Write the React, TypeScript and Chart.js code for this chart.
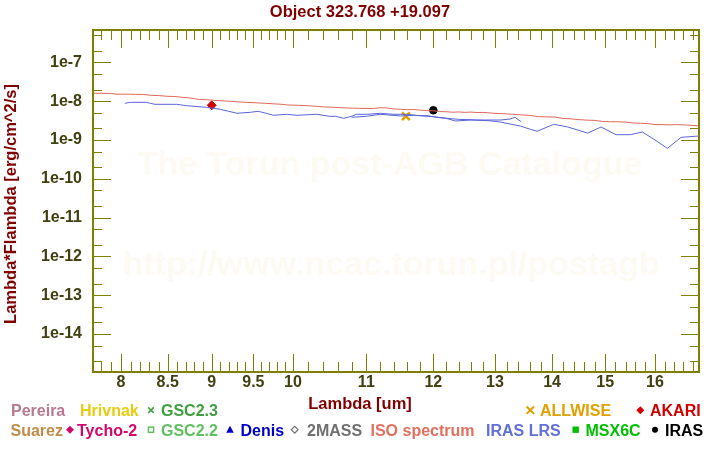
import React, { useEffect, useRef } from 'react';
import { Chart, registerables } from 'chart.js';

Chart.register(...registerables);

// ---------- texts ----------
const titleText = 'Object 323.768 +19.097';
const xTitleText = 'Lambda [um]';
const yTitleText = 'Lambda*Flambda [erg/cm^2/s]';
const watermark1 = 'The Torun post-AGB Catalogue';
const watermark2 = 'http://www.ncac.torun.pl/postagb';

// ---------- axes ----------
const X_MIN = 7.7145;
const X_MAX = 16.941;
const Y_MIN = 1.05e-15;
const Y_MAX = 6.84e-7;
const xMajorTicks = [8, 8.5, 9, 9.5, 10, 11, 12, 13, 14, 15, 16];
const xMinorTicks = [
  7.8, 7.9, 8.1, 8.2, 8.3, 8.4, 8.6, 8.7, 8.8, 8.9, 9.1, 9.2, 9.3, 9.4, 9.6, 9.7, 9.8, 9.9,
  10.2, 10.4, 10.6, 10.8, 11.2, 11.4, 11.6, 11.8, 12.2, 12.4, 12.6, 12.8, 13.2, 13.4, 13.6, 13.8,
  14.2, 14.4, 14.6, 14.8, 15.2, 15.4, 15.6, 15.8, 16.2, 16.4, 16.6, 16.8,
];
const yMajorTicks = [1e-14, 1e-13, 1e-12, 1e-11, 1e-10, 1e-9, 1e-8, 1e-7];
const yMinorTicks = [
  2e-15, 5e-15, 2e-14, 5e-14, 2e-13, 5e-13, 2e-12, 5e-12, 2e-11, 5e-11,
  2e-10, 5e-10, 2e-9, 5e-9, 2e-8, 5e-8, 2e-7, 5e-7,
];

// ---------- ISO spectrum ----------
const isoWave = [
  7.71, 7.8, 7.9, 7.96, 8.05, 8.15, 8.24, 8.32, 8.4, 8.49, 8.58, 8.66, 8.74, 8.8, 8.86, 8.95,
  9.06, 9.17, 9.29, 9.41, 9.53, 9.65, 9.78, 9.86, 9.93, 10.07, 10.22, 10.32, 10.42, 10.56, 10.71,
  10.9, 11.1, 11.2, 11.3, 11.4, 11.5, 11.6, 11.7, 11.8, 11.9, 12.0, 12.1, 12.2, 12.3, 12.4, 12.5,
  12.6, 12.7, 12.8, 12.9, 13.0, 13.1, 13.2, 13.3, 13.45, 13.6, 13.75, 13.9, 14.05, 14.2, 14.35,
  14.5, 14.65, 14.8, 14.95, 15.1, 15.25, 15.4, 15.55, 15.7, 15.85, 16.0, 16.15, 16.3, 16.45, 16.6,
  16.75, 16.94,
];
const isoFlux = [
  1.6e-8, 1.6e-8, 1.58e-8, 1.51e-8, 1.52e-8, 1.5e-8, 1.49e-8, 1.42e-8, 1.4e-8, 1.34e-8, 1.32e-8,
  1.26e-8, 1.22e-8, 1.16e-8, 1.1e-8, 1.09e-8, 1.04e-8, 1.01e-8, 9.7e-9, 9.35e-9, 9.1e-9, 8.8e-9,
  8.5e-9, 8.3e-9, 8.0e-9, 7.85e-9, 7.6e-9, 7.35e-9, 7.1e-9, 6.95e-9, 6.7e-9, 6.55e-9, 6.5e-9,
  6.8e-9, 6.7e-9, 6.3e-9, 6.2e-9, 6.05e-9, 6.1e-9, 5.9e-9, 5.7e-9, 5.65e-9, 5.4e-9, 5.35e-9,
  5.2e-9, 5.3e-9, 5.15e-9, 5.25e-9, 5.1e-9, 5.15e-9, 5.0e-9, 4.85e-9, 4.8e-9, 4.7e-9, 4.6e-9,
  4.45e-9, 4.3e-9, 4.0e-9, 3.95e-9, 3.9e-9, 3.6e-9, 3.5e-9, 3.35e-9, 3.25e-9, 3.2e-9, 3.0e-9,
  2.95e-9, 2.95e-9, 2.9e-9, 2.75e-9, 2.7e-9, 2.65e-9, 2.5e-9, 2.5e-9, 2.45e-9, 2.5e-9, 2.45e-9,
  2.4e-9, 2.3e-9,
];

// ---------- IRAS LRS (short and long segment) ----------
const lrsShortWave = [
  8.04, 8.1, 8.27, 8.31, 8.36, 8.6, 8.71, 8.94, 9.1, 9.2, 9.3, 9.46, 9.56, 9.66, 9.75, 9.92,
  10.05, 10.31, 10.49, 10.57, 10.68, 10.79, 10.86, 11.02, 11.2, 11.39, 11.59, 11.75, 11.9, 12.1,
  12.4, 12.7, 13.1, 13.26, 13.34, 13.45,
];
const lrsShortFlux = [
  8.83e-9, 9.37e-9, 9.37e-9, 8.83e-9, 8.32e-9, 8.32e-9, 7.66e-9, 6.96e-9, 6.18e-9, 5.49e-9,
  4.88e-9, 5.17e-9, 5.49e-9, 4.88e-9, 4.33e-9, 4.6e-9, 4.33e-9, 4.6e-9, 4.08e-9, 4.08e-9,
  3.62e-9, 4.08e-9, 4.6e-9, 4.6e-9, 4.88e-9, 4.6e-9, 4.6e-9, 4.3e-9, 4.23e-9, 3.76e-9, 3.41e-9,
  3.28e-9, 3.28e-9, 3.48e-9, 3.85e-9, 2.96e-9,
];
const lrsLongWave = [
  10.79, 11.0, 11.2, 11.5, 11.7, 12.0, 12.2, 12.35, 12.6, 12.9, 13.09, 13.26, 13.43, 13.61, 13.73,
  14.03, 14.27, 14.66, 14.92, 15.21, 15.5, 15.74, 15.98, 16.26, 16.55, 16.94,
];
const lrsLongFlux = [
  3.85e-9, 4.08e-9, 4.6e-9, 4.16e-9, 4.33e-9, 3.98e-9, 3.62e-9, 3.09e-9, 3.28e-9, 3.14e-9,
  2.91e-9, 2.58e-9, 2.3e-9, 1.89e-9, 1.68e-9, 2.54e-9, 2.2e-9, 1.51e-9, 2.16e-9, 1.37e-9,
  1.37e-9, 1.61e-9, 1.04e-9, 6.11e-10, 1.17e-9, 1.27e-9,
];

// ---------- photometry ----------
const akariWave = [9.0];
const akariFlux = [7.84e-9];
const allwiseWave = [11.58];
const allwiseFlux = [4.08e-9];
const irasWave = [12.0];
const irasFlux = [5.83e-9];

const FONT = '"Liberation Sans", Arial, Helvetica, sans-serif';
const OLIVE = '#808000';
const MAROON = '#800000';

const zip = (xs: number[], ys: number[]) => xs.map((x, i) => ({ x, y: ys[i] }));

type LegendItem = { text: string; color: string; x: number; row: number; marker?: string; mx?: number };
const legendItems: LegendItem[] = [
  { text: 'Pereira', color: '#b87890', x: 11, row: 0 },
  { text: 'Hrivnak', color: '#e8cc10', x: 80, row: 0 },
  { text: 'GSC2.3', color: '#40a040', x: 161, row: 0, marker: 'x', mx: 151 },
  { text: 'ALLWISE', color: '#e0a000', x: 540, row: 0, marker: 'X', mx: 530.3 },
  { text: 'AKARI', color: '#d00000', x: 650, row: 0, marker: 'D', mx: 640.3 },
  { text: 'Suarez', color: '#c08c48', x: 10.5, row: 1 },
  { text: 'Tycho-2', color: '#d0086c', x: 77, row: 1, marker: 'D', mx: 70 },
  { text: 'GSC2.2', color: '#60c060', x: 161, row: 1, marker: 'sq', mx: 151 },
  { text: 'Denis', color: '#0000c8', x: 240.5, row: 1, marker: 'tri', mx: 230 },
  { text: '2MASS', color: '#707070', x: 307, row: 1, marker: 'od', mx: 294.7 },
  { text: 'ISO spectrum', color: '#e07060', x: 370.5, row: 1 },
  { text: 'IRAS LRS', color: '#6070d8', x: 486, row: 1 },
  { text: 'MSX6C', color: '#00c000', x: 585.5, row: 1, marker: 'fsq', mx: 575.7 },
  { text: 'IRAS', color: '#000000', x: 665, row: 1, marker: 'dot', mx: 655 },
];

function drawMarker(ctx: CanvasRenderingContext2D, kind: string, x: number, y: number, color: string) {
  ctx.save();
  ctx.strokeStyle = color;
  ctx.fillStyle = color;
  ctx.lineWidth = 1.5;
  ctx.beginPath();
  if (kind === 'x' || kind === 'X') {
    const h = kind === 'X' ? 3.7 : 2.8;
    ctx.lineWidth = kind === 'X' ? 2 : 1.6;
    ctx.moveTo(x - h, y - h); ctx.lineTo(x + h, y + h);
    ctx.moveTo(x + h, y - h); ctx.lineTo(x - h, y + h);
    ctx.stroke();
  } else if (kind === 'D') {
    const h = 4;
    ctx.moveTo(x, y - h); ctx.lineTo(x + h, y); ctx.lineTo(x, y + h); ctx.lineTo(x - h, y);
    ctx.closePath(); ctx.fill();
  } else if (kind === 'od') {
    const h = 3.4;
    ctx.lineWidth = 1.2;
    ctx.moveTo(x, y - h); ctx.lineTo(x + h, y); ctx.lineTo(x, y + h); ctx.lineTo(x - h, y);
    ctx.closePath(); ctx.stroke();
  } else if (kind === 'sq') {
    ctx.lineWidth = 1.5;
    ctx.strokeRect(x - 2.6, y - 2.6, 5.2, 5.2);
  } else if (kind === 'fsq') {
    ctx.fillRect(x - 3.2, y - 3.2, 6.4, 6.4);
  } else if (kind === 'tri') {
    ctx.moveTo(x, y - 4); ctx.lineTo(x + 3.8, y + 3); ctx.lineTo(x - 3.8, y + 3);
    ctx.closePath(); ctx.fill();
  } else if (kind === 'dot') {
    ctx.arc(x, y, 3, 0, Math.PI * 2); ctx.fill();
  }
  ctx.restore();
}

const decorPlugin = {
  id: 'decor',
  beforeDatasetsDraw(chart: any) {
    const ctx: CanvasRenderingContext2D = chart.ctx;
    ctx.save();
    ctx.fillStyle = '#fdfaf4';
    ctx.font = `bold 34px ${FONT}`;
    ctx.textAlign = 'center';
    ctx.textBaseline = 'alphabetic';
    ctx.fillText(watermark1, 389.5, 175);
    ctx.fillText(watermark2, 391, 275);
    ctx.restore();
  },
  afterDatasetsDraw(chart: any) {
    const ctx: CanvasRenderingContext2D = chart.ctx;
    const { left, right, top, bottom } = chart.chartArea;
    const xs = chart.scales.x;
    const ys = chart.scales.y;
    ctx.save();
    ctx.strokeStyle = OLIVE;
    ctx.lineWidth = 1;
    const vtick = (v: number, len: number) => {
      const p = Math.round(xs.getPixelForValue(v)) + 0.5;
      ctx.beginPath();
      ctx.moveTo(p, bottom); ctx.lineTo(p, bottom - len);
      ctx.moveTo(p, top); ctx.lineTo(p, top + len);
      ctx.stroke();
    };
    const htick = (v: number, len: number) => {
      const p = Math.round(ys.getPixelForValue(v)) + 0.5;
      ctx.beginPath();
      ctx.moveTo(left, p); ctx.lineTo(left + len, p);
      ctx.moveTo(right, p); ctx.lineTo(right - len, p);
      ctx.stroke();
    };
    xMajorTicks.forEach((v) => vtick(v, 18));
    xMinorTicks.forEach((v) => vtick(v, 10));
    yMajorTicks.forEach((v) => htick(v, 18));
    yMinorTicks.forEach((v) => htick(v, 9));
    ctx.lineWidth = 2;
    ctx.strokeRect(left, top, right - left, bottom - top);
    ctx.restore();
  },
  afterDraw(chart: any) {
    const ctx: CanvasRenderingContext2D = chart.ctx;
    ctx.save();
    ctx.fillStyle = MAROON;
    ctx.textBaseline = 'alphabetic';
    ctx.font = `bold 16.5px ${FONT}`;
    ctx.textAlign = 'center';
    ctx.fillText(titleText, 360, 17);
    ctx.fillText(xTitleText, 360, 409);
    ctx.save();
    ctx.translate(15.5, 204);
    ctx.rotate(-Math.PI / 2);
    ctx.fillText(yTitleText, 0, 0);
    ctx.restore();

    ctx.font = `bold 16px ${FONT}`;
    ctx.textAlign = 'left';
    legendItems.forEach((it) => {
      const base = it.row === 0 ? 416 : 435.5;
      if (it.marker && it.mx !== undefined) drawMarker(ctx, it.marker, it.mx, base - 5.8, it.color);
      ctx.fillStyle = it.color;
      ctx.fillText(it.text, it.x, base);
    });
    ctx.restore();
  },
};

export default function App() {
  const canvasRef = useRef<HTMLCanvasElement | null>(null);

  useEffect(() => {
    document.body.style.margin = '0';
    const canvas = canvasRef.current;
    if (!canvas) return;
    const tickFont = { family: FONT, size: 16, weight: 'bold' as const };
    const chart = new Chart(canvas, {
      type: 'scatter',
      data: {
        datasets: [
          {
            label: 'IRAS LRS',
            data: zip(lrsShortWave, lrsShortFlux),
            showLine: true,
            borderColor: '#5a64d8',
            borderWidth: 1,
            pointRadius: 0,
          },
          {
            label: 'IRAS LRS (long)',
            data: zip(lrsLongWave, lrsLongFlux),
            showLine: true,
            borderColor: '#5a64d8',
            borderWidth: 1,
            pointRadius: 0,
          },
          {
            label: 'ISO spectrum',
            data: zip(isoWave, isoFlux),
            showLine: true,
            borderColor: '#e0685a',
            borderWidth: 1,
            pointRadius: 0,
          },
          {
            label: 'AKARI',
            data: zip(akariWave, akariFlux),
            pointStyle: 'rectRot',
            pointRadius: 4.5,
            backgroundColor: '#d00000',
            borderColor: '#d00000',
            borderWidth: 1,
          },
          {
            label: 'ALLWISE',
            data: zip(allwiseWave, allwiseFlux),
            pointStyle: 'crossRot',
            pointRadius: 5.5,
            borderColor: '#e0a000',
            borderWidth: 2.5,
          },
          {
            label: 'IRAS',
            data: zip(irasWave, irasFlux),
            pointStyle: 'circle',
            pointRadius: 3.8,
            backgroundColor: '#000000',
            borderColor: '#000000',
            borderWidth: 1,
          },
        ],
      },
      options: {
        animation: false,
        responsive: false,
        devicePixelRatio: 1,
        layout: { padding: { top: 30, right: 21, left: 0, bottom: 0 } },
        plugins: {
          legend: { display: false },
          tooltip: { enabled: false },
          title: { display: false },
        },
        scales: {
          x: {
            type: 'logarithmic',
            position: 'bottom',
            min: X_MIN,
            max: X_MAX,
            bounds: 'data',
            grid: { display: false },
            border: { display: false },
            afterFit: (s: any) => { s.height = 78; },
            afterBuildTicks: (s: any) => { s.ticks = xMajorTicks.map((v) => ({ value: v })); },
            ticks: {
              autoSkip: false,
              maxRotation: 0,
              minRotation: 0,
              padding: -7,
              color: '#404010',
              font: tickFont,
              callback: (v: any) => String(v),
            },
          },
          y: {
            type: 'logarithmic',
            position: 'left',
            min: Y_MIN,
            max: Y_MAX,
            bounds: 'data',
            grid: { display: false },
            border: { display: false },
            afterFit: (s: any) => { s.width = 93; },
            afterBuildTicks: (s: any) => { s.ticks = yMajorTicks.map((v) => ({ value: v })); },
            ticks: {
              autoSkip: false,
              padding: 3,
              color: '#404010',
              font: tickFont,
              callback: (v: any) => '1e' + Math.round(Math.log10(Number(v))),
            },
          },
        },
      } as any,
      plugins: [decorPlugin],
    });
    return () => chart.destroy();
  }, []);

  return (
    <div style={{ width: 720, height: 450, background: '#ffffff' }}>
      <canvas ref={canvasRef} width={720} height={450} style={{ display: 'block' }} />
    </div>
  );
}
